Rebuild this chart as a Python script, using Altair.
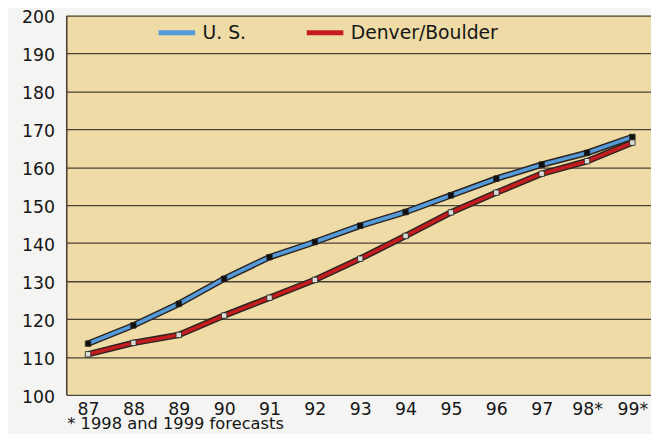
import altair as alt
import pandas as pd

years = [87, 88, 89, 90, 91, 92, 93, 94, 95, 96, 97, 98, 99]
us = [113.5, 118.3, 124.0, 130.6, 136.3, 140.3, 144.6, 148.2, 152.6, 157.0, 160.7, 163.8, 168.0]
denver = [110.7, 113.7, 115.8, 120.9, 125.6, 130.3, 135.9, 141.9, 148.1, 153.3, 158.3, 161.6, 166.5]
series_names = ["U. S.", "Denver/Boulder"]
y_ticks = list(range(100, 201, 10))
footnote = "* 1998 and 1999 forecasts"

rows = []
for name, vals in zip(series_names, [us, denver]):
    for yr, v in zip(years, vals):
        rows.append({"year": yr, "value": v, "series": name})
df = pd.DataFrame(rows)

FONT = "DejaVu Sans"
TXT = "#161616"
DARK = "#4a4336"

x_enc = alt.X(
    "year:Q",
    scale=alt.Scale(domain=[86.52, 99.41], nice=False, zero=False),
    axis=alt.Axis(
        values=years,
        labelExpr="datum.value >= 98 ? datum.label + '*' : datum.label",
        grid=False, ticks=False, domain=False,
        labelFont=FONT, labelFontSize=17.5, labelColor=TXT,
        labelPadding=6, labelFlush=False, labelOverlap=False,
        title=None,
    ),
)
y_enc = alt.Y(
    "value:Q",
    scale=alt.Scale(domain=[100, 200], nice=False, zero=False),
    axis=alt.Axis(
        values=y_ticks,
        grid=True, gridColor=DARK, gridWidth=1.3, gridOpacity=1,
        ticks=False, domain=True, domainColor=DARK, domainWidth=1.6,
        labelFont=FONT, labelFontSize=17.5, labelColor=TXT,
        labelPadding=12, labelOffset=2.5, labelFlush=False, title=None,
    ),
)

base = alt.Chart(df)

outline = base.mark_line(strokeWidth=6.5, color="#2b2420").encode(
    x=x_enc, y=y_enc, detail="series:N"
)
colored = base.mark_line(strokeWidth=3.6).encode(
    x=x_enc,
    y=y_enc,
    color=alt.Color(
        "series:N",
        scale=alt.Scale(domain=series_names, range=["#559ad9", "#c41c1f"]),
        sort=series_names,
        legend=alt.Legend(
            title=None,
            orient="none",
            legendX=91,
            legendY=-3.5,
            direction="horizontal",
            symbolType="stroke",
            symbolSize=1369,
            symbolStrokeWidth=5,
            labelFont=FONT,
            labelFontSize=19,
            labelColor=TXT,
            labelOffset=5,
            columnPadding=50,
        ),
    ),
)
markers = base.mark_square(size=30, stroke="#222222", strokeWidth=0.8, opacity=1).encode(
    x=x_enc,
    y=y_enc,
    fill=alt.Fill(
        "series:N",
        scale=alt.Scale(domain=series_names, range=["#111111", "#dcdcd6"]),
        legend=None,
    ),
)
note = alt.Chart(pd.DataFrame({"t": [footnote]})).mark_text(
    align="left", baseline="alphabetic", font=FONT, fontSize=16.5, color=TXT
).encode(text="t:N", x=alt.value(1), y=alt.value(419))

chart = (
    alt.layer(outline, colored, markers, note)
    .properties(
        width=592,
        height=384,
        autosize=alt.AutoSizeParams(type="none"),
        padding={"left": 59, "top": 5, "right": 0, "bottom": 37},
        background="#f4f4f2",
    )
    .configure_view(fill="#eedba6", stroke=None)
)

chart.save("out.html", embed_options={"renderer": "svg", "actions": False})
